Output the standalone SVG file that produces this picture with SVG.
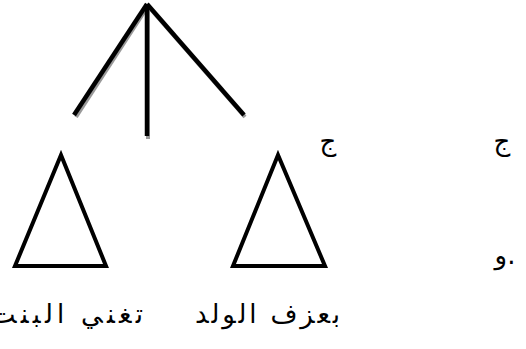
<svg xmlns="http://www.w3.org/2000/svg" width="526" height="349" viewBox="0 0 526 349">
<style>
.ln{stroke:#000;stroke-width:4.5;fill:none;stroke-linecap:butt}
.sh{stroke:#999;stroke-width:4;fill:none}
.tri{stroke:#000;stroke-width:4;fill:#fff;stroke-linejoin:miter}
.t{font-family:"DejaVu Sans","Noto Sans",sans-serif;font-size:26px;fill:#000}
</style>
<rect width="526" height="349" fill="#fff"/>
<g id="connectors">
<line class="sh" x1="148" y1="6" x2="76" y2="117"/>
<line class="sh" x1="148" y1="6" x2="245" y2="117"/>
<line class="sh" x1="148" y1="8" x2="148" y2="139"/>
<line class="ln" x1="147" y1="4" x2="74" y2="115"/>
<line class="ln" x1="147" y1="4" x2="244" y2="115"/>
<line class="ln" x1="147" y1="4" x2="147" y2="136"/>
</g>
<g id="tri-left"><polygon class="tri" points="61,155 15,266 106,266"/></g>
<g id="tri-right"><polygon class="tri" points="278,155 233,266 325,266"/></g>
<g id="label-left"><text class="t" x="143" y="323" text-anchor="end" textLength="152" lengthAdjust="spacing">تغني البنت</text></g>
<g id="label-right"><text class="t" x="340" y="323" text-anchor="end" textLength="145" lengthAdjust="spacing">بعزف الولد</text></g>
<g id="jim1"><text class="t" x="328" y="150" text-anchor="middle">ج</text></g>
<g id="jim2"><text class="t" x="502" y="150" text-anchor="middle">ج</text></g>
<g id="jim3"><text class="t" x="479" y="-9" text-anchor="middle">ج</text></g>
<g id="waw"><text class="t" x="505" y="264" text-anchor="middle" direction="ltr" unicode-bidi="bidi-override">و.</text></g>
</svg>
